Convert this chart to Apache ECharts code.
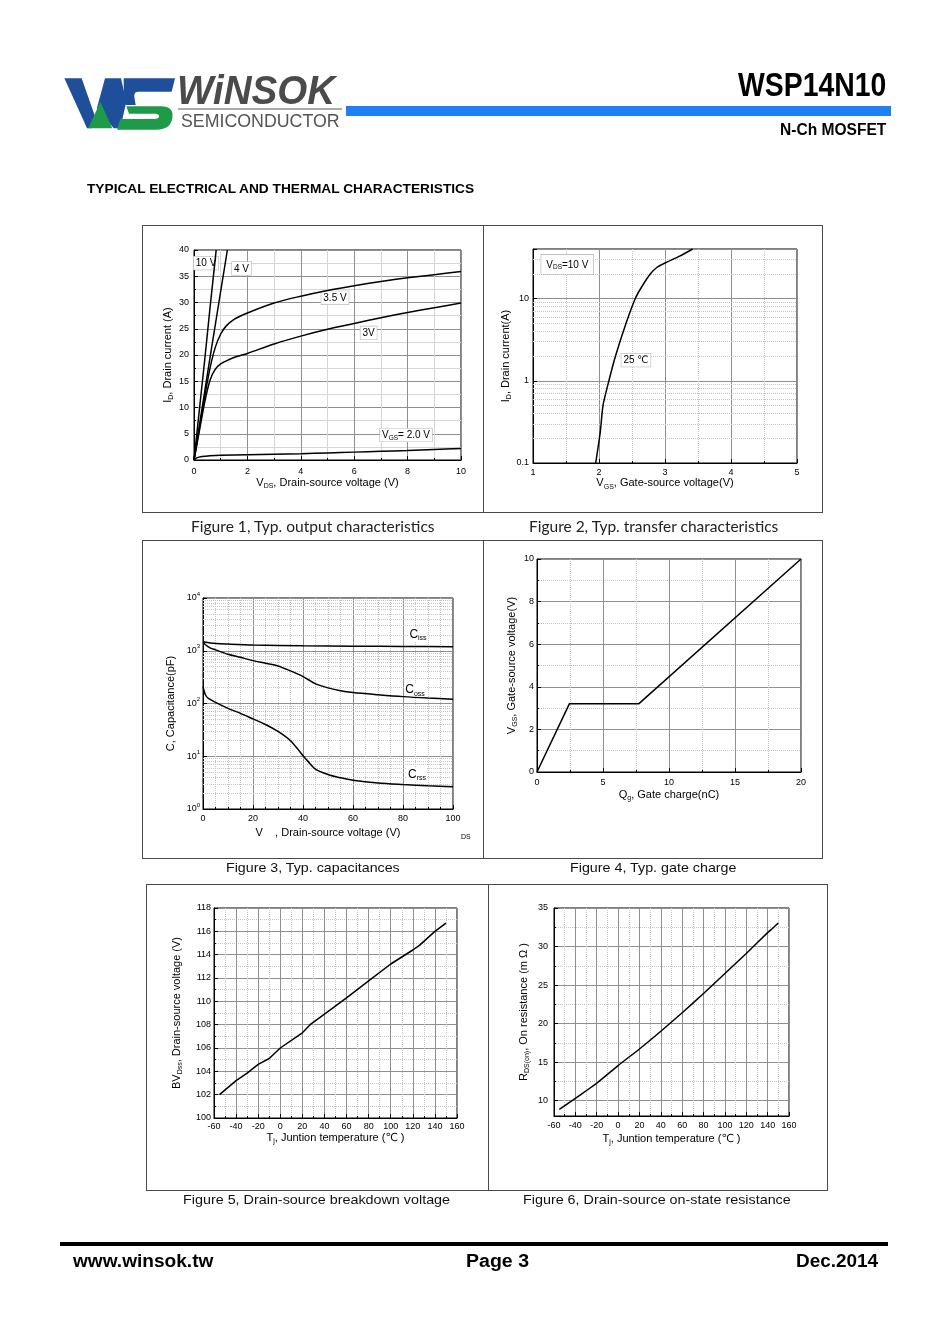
<!DOCTYPE html>
<html><head><meta charset="utf-8"><title>WSP14N10 typical characteristics</title>
<script src="https://cdn.jsdelivr.net/npm/echarts@6.0.0/dist/echarts.min.js"></script>
<style>
html,body{margin:0;padding:0;background:#fff;}
body{width:950px;height:1344px;position:relative;overflow:hidden;font-family:"Liberation Sans",Arial,sans-serif;color:#000}
#chart{position:absolute;left:0;top:0;width:950px;height:1344px}
.t{position:absolute;white-space:nowrap;line-height:1.15;transform-origin:0 50%}
.box{position:absolute;border:1px solid #4a4a4a;box-sizing:border-box}
.vl{position:absolute;width:1px;background:#4a4a4a}
.cap1{font-family:Lato,"Open Sans",sans-serif;font-size:15px;color:#222}
.cap2{font-size:13px;color:#111}
</style></head><body>
<div id="chart"></div>

<!-- logo -->
<svg style="position:absolute;left:55px;top:65px" width="300" height="75" viewBox="0 0 900 225">
  <path fill="#1f4f9b" d="M28,40 L80,40 L122,160 L110,190 L96,190 Q60,110 28,40 Z"/>
  <path fill="#1f4f9b" d="M126,128 L150,40 L198,40 L214,110 L196,190 L176,190 Z"/>
  <path fill="#1f9a49" d="M100,190 L136,110 L172,190 Z"/>
  <path fill="#1f4f9b" d="M206,40 L360,40 L350,80 L250,80 Q236,80 238,96 L242,120 L212,120 Q204,80 206,40 Z"/>
  <path fill="#1f9a49" d="M214,124 L318,124 Q358,124 352,160 Q346,194 306,194 L186,194 L196,162 L298,162 Q312,162 312,154 Q312,146 300,146 L222,146 Z"/>
</svg>
<div class="t" data-x="177" data-y="90" data-w="158" data-a="l" style="font-style:italic;font-weight:bold;font-size:41px;color:#4b4b4b">WiNSOK</div>
<div style="position:absolute;left:178px;top:108px;width:164px;height:2px;background:#aaa"></div>
<div class="t" data-x="181" data-y="121" data-w="159" data-a="l" style="font-size:19px;color:#555">SEMICONDUCTOR</div>
<div style="position:absolute;left:346px;top:106px;width:545px;height:10px;background:#1e80f2"></div>
<div class="t" data-x="886" data-y="85" data-w="148" data-a="r" style="font-weight:bold;font-size:33px">WSP14N10</div>
<div class="t" data-x="886" data-y="130" data-w="106" data-a="r" style="font-weight:bold;font-size:16px">N-Ch MOSFET</div>
<div class="t" data-x="87" data-y="189" data-w="387" data-a="l" style="font-weight:bold;font-size:13px">TYPICAL ELECTRICAL AND THERMAL CHARACTERISTICS</div>

<!-- frames -->
<div class="box" style="left:142px;top:225px;width:681px;height:288px"></div>
<div class="vl" style="left:483px;top:225px;height:288px"></div>
<div class="box" style="left:142px;top:540px;width:681px;height:319px"></div>
<div class="vl" style="left:483px;top:540px;height:319px"></div>
<div class="box" style="left:146px;top:884px;width:682px;height:307px"></div>
<div class="vl" style="left:488px;top:884px;height:307px"></div>

<!-- captions -->
<div class="t cap1" data-x="313" data-y="526" data-w="244" data-a="c">Figure 1, Typ. output characteristics</div>
<div class="t cap1" data-x="653.5" data-y="526" data-w="249" data-a="c">Figure 2, Typ. transfer characteristics</div>
<div class="t cap2" data-x="313" data-y="868" data-w="174" data-a="c">Figure 3, Typ. capacitances</div>
<div class="t cap2" data-x="653.5" data-y="868" data-w="167" data-a="c">Figure 4, Typ. gate charge</div>
<div class="t cap2" data-x="316.5" data-y="1200" data-w="267" data-a="c">Figure 5, Drain-source breakdown voltage</div>
<div class="t cap2" data-x="657" data-y="1200" data-w="268" data-a="c">Figure 6, Drain-source on-state resistance</div>

<!-- footer -->
<div style="position:absolute;left:60px;top:1242px;width:828px;height:4px;background:#000"></div>
<div class="t" data-x="73" data-y="1261" data-w="140" data-a="l" style="font-weight:bold;font-size:18px">www.winsok.tw</div>
<div class="t" data-x="497.5" data-y="1261" data-w="63" data-a="c" style="font-weight:bold;font-size:18px">Page 3</div>
<div class="t" data-x="878" data-y="1261" data-w="82" data-a="r" style="font-weight:bold;font-size:18px">Dec.2014</div>

<script>
// ---------------- data ----------------
// Figure 1: output characteristics  [VDS (V), ID (A)]
const fig1VGS10 = [[0,0],[0.2,9.5],[0.4,19],[0.6,29],[0.8,38.5],[0.83,40]];
const fig1VGS4  = [[0,0],[0.3,9.8],[0.6,19.5],[0.9,29],[1.25,40]];
const fig1VGS35 = [[0,0],[0.2,6],[0.4,12],[0.6,17.5],[0.8,21.5],[1.0,24],[1.2,25.5],[1.5,26.8],[2,28],[3,29.9],[4,31.2],[5,32.3],[6,33.2],[7,34],[8,34.7],[9,35.3],[10,35.9]];
const fig1VGS3  = [[0,0],[0.2,5.5],[0.4,11],[0.6,15.2],[0.8,17.3],[1.0,18.3],[1.3,19.1],[1.6,19.7],[2,20.3],[3,22.1],[4,23.6],[5,24.9],[6,26],[7,27.1],[8,28.1],[9,29],[10,29.9]];
const fig1VGS2  = [[0,0],[0.1,0.4],[0.3,0.65],[0.6,0.8],[1,0.9],[2,1.0],[3,1.1],[4,1.2],[5,1.35],[6,1.5],[7,1.65],[8,1.8],[9,2.0],[10,2.2]];
// Figure 2: transfer characteristics [VGS (V), ID (A)]
const fig2Transfer = [[1.95,0.1],[2.02,0.24],[2.06,0.5],[2.15,1],[2.25,2],[2.41,5],[2.55,10],[2.65,14],[2.78,20],[2.88,24],[3.0,27],[3.23,33],[3.42,40]];
// Figure 3: capacitances [VDS (V), C (pF)]
const fig3Ciss = [[0,1480],[3,1400],[10,1340],[20,1280],[40,1240],[60,1220],[80,1205],[100,1195]];
const fig3Coss = [[0,1450],[1,1300],[2,1200],[3,1120],[5,1040],[10,860],[15,750],[20,650],[25,580],[30,515],[35,415],[38,360],[40,324],[42,285],[45,235],[50,198],[55,175],[60,162],[70,147],[80,135],[90,127],[100,121]];
const fig3Crss = [[0,209],[0.5,170],[1,145],[2,126],[5,105],[10,81],[15,65],[20,51],[25,40],[30,29.5],[35,19.7],[38,13.5],[40,10.2],[42,8.0],[45,5.7],[50,4.5],[55,3.9],[60,3.5],[70,3.1],[80,2.9],[90,2.75],[100,2.64]];
// Figure 4: gate charge [Qg (nC), VGS (V)]
const fig4Qg  = [0, 2.45, 7.7, 20];
const fig4Vgs = [0, 3.2, 3.2, 10];
// Figure 5: breakdown voltage [Tj (°C), BVDSS (V)]
const fig5BV = [[-55,102],[-40,103.2],[-30,103.85],[-20,104.6],[-10,105.1],[0,106],[20,107.3],[27,108],[40,108.9],[60,110.3],[80,111.75],[100,113.2],[120,114.4],[126,114.8],[140,116],[150,116.7]];
// Figure 6: on-resistance [Tj (°C), RDS(on) (mΩ)]
const fig6Rds = [[-55,8.85],[-40,10.3],[-20,12.25],[0,14.55],[20,16.7],[40,19],[60,21.4],[80,23.9],[100,26.5],[120,29.1],[140,31.8],[145,32.4],[150,33.05]];
// curve labels
const fig1Names = ['{t|10 V}','{t|4 V}','{t|3.5 V}','{t|3V}','{t|V}{ts|GS}{t|= 2.0 V}'];
const fig2Names = ['{t|V}{ts|DS}{t|=10 V}','{t|25 ℃}'];
const fig3Names = ['{c|C}{cs|iss}','{c|C}{cs|oss}','{c|C}{cs|rss}'];

// ---------------- html text fitting ----------------
document.querySelectorAll('.t').forEach(function(el){
  const mw = el.offsetWidth, h = el.offsetHeight;
  const w = parseFloat(el.dataset.w) || mw;
  const x = parseFloat(el.dataset.x), y = parseFloat(el.dataset.y), a = el.dataset.a || 'l';
  const left = a === 'l' ? x : (a === 'r' ? x - w : x - w / 2);
  el.style.left = left + 'px';
  el.style.top = (y - h / 2) + 'px';
  el.style.transform = 'scaleX(' + (w / mw) + ')';
});

// ---------------- chart ----------------
const FONT = '"Liberation Sans", Arial, "DejaVu Sans", sans-serif';
const MAJ = '#8f8f8f', MIN = '#c4c4c4';
const RICH = {
  n:  {fontSize:11, lineHeight:14, fontFamily:FONT, color:'#000'},
  s:  {fontSize:7, lineHeight:7, verticalAlign:'bottom', fontFamily:FONT, color:'#000'},
  b:  {fontSize:9, lineHeight:14, fontFamily:FONT, color:'#000'},
  sup:{fontSize:6, lineHeight:6, verticalAlign:'top', fontFamily:FONT, color:'#000'},
  t:  {fontSize:10, lineHeight:12, fontFamily:FONT, color:'#000'},
  ts: {fontSize:6.5, lineHeight:6, verticalAlign:'bottom', fontFamily:FONT, color:'#000'},
  c:  {fontSize:12, lineHeight:14, fontFamily:FONT, color:'#000'},
  cs: {fontSize:7, lineHeight:7, verticalAlign:'bottom', fontFamily:FONT, color:'#000'}
};

const grids = [
  {left:194, top:250, width:267, height:210},
  {left:533, top:249, width:264, height:214},
  {left:203, top:598, width:250, height:211},
  {left:537, top:559, width:264, height:213},
  {left:214, top:908, width:243, height:210},
  {left:554, top:908, width:235, height:208}
].map(function(g){ return Object.assign(g, {show:true, borderColor:'#000', borderWidth:1, backgroundColor:'rgba(0,0,0,0)', containLabel:false, outerBoundsMode:'none'}); });

function axis(kind, gi, o){
  const a = {
    type: o.type || 'value', gridIndex: gi, min: o.min, max: o.max,
    position: kind === 'x' ? 'bottom' : 'left',
    axisLine: {show:true, onZero:false, lineStyle:{color:'#000', width:1}},
    axisTick: {show:true, inside:true, length:4, lineStyle:{color:'#000', width:1}},
    axisLabel: {show:true, fontSize:9, color:'#000', fontFamily:FONT, margin:o.margin, rich:RICH},
    splitLine: {show:true, lineStyle:{color:MAJ, width:1}},
    name: o.name, nameLocation:'middle', nameGap:o.gap,
    nameTextStyle: {fontFamily:FONT, fontSize:11, color:'#000', rich:RICH}
  };
  if (o.interval != null) a.interval = o.interval;
  if (o.splitNumber != null) a.splitNumber = o.splitNumber;
  if (a.type === 'value') {
    a.minorTick = {show:true, splitNumber:o.minor || 2, length:2, lineStyle:{color:'#000'}};
    a.minorSplitLine = {show:true, lineStyle:{color:o.minorColor || MIN, width:1, type:o.minorType || 'dotted'}};
  } else {
    a.logBase = 10;
  }
  if (o.formatter) a.axisLabel.formatter = o.formatter;
  if (o.showMinLabel === false) a.axisLabel.showMinLabel = false;
  return a;
}

function logMinor(lo, hi){
  const out = [];
  for (let e = Math.floor(Math.log10(lo)); e <= Math.ceil(Math.log10(hi)); e++) {
    for (let m = 2; m <= 9; m++) {
      const v = m * Math.pow(10, e);
      if (v > lo * 1.0001 && v < hi * 0.9999) out.push({yAxis: v});
    }
  }
  return out;
}
function minorLines(lo, hi){
  return {silent:true, symbol:['none','none'], animation:false, label:{show:false},
          lineStyle:{color:MIN, type:'dotted', width:1}, emphasis:{disabled:true}, data:logMinor(lo, hi)};
}
function tag(coord, text, extra){
  return {coord:coord, symbol:'rect', symbolSize:1, itemStyle:{color:'rgba(0,0,0,0)'},
    label:Object.assign({show:true, position:'inside', formatter:text, fontFamily:FONT, fontSize:10, color:'#000',
      backgroundColor:'#fff', borderColor:'#b8b8b8', borderWidth:0.6, padding:[1,2,0,2], rich:RICH}, extra || {})};
}
function line(gi, data, o){
  o = o || {};
  const s = {type:'line', xAxisIndex:gi, yAxisIndex:gi, data:data, symbol:'none', showSymbol:false,
    smooth:o.smooth || false, lineStyle:{color:'#000', width:1.5}, silent:true, z:5};
  if (o.tags) s.markPoint = {silent:true, animation:false, data:o.tags};
  if (o.markLine) s.markLine = o.markLine;
  return s;
}

const log2 = function(v){ const e = Math.log10(v), r = Math.round(e);
  if (Math.abs(e - r) > 1e-6) return ''; return r < 0 ? '0.1' : String(Math.round(v)); };
const log3 = function(v){ const e = Math.log10(v), r = Math.round(e);
  if (Math.abs(e - r) > 1e-6) return ''; return '{b|10}{sup|' + r + '}'; };

const xAxes = [
  axis('x',0,{min:0,max:10,interval:2,minorType:'solid',minorColor:'#d6d6d6',margin:7,gap:16,name:'{n|V}{s|DS}{n|, Drain-source voltage (V)}'}),
  axis('x',1,{min:1,max:5,interval:1,margin:5,gap:13,name:'{n|V}{s|GS}{n|, Gate-source voltage(V)}'}),
  axis('x',2,{min:0,max:100,interval:20,minor:4,margin:5,gap:17,name:'{n|V    , Drain-source voltage (V)}'}),
  axis('x',3,{min:0,max:20,interval:5,margin:6,gap:16,name:'{n|Q}{s|g}{n|, Gate charge(nC)}'}),
  axis('x',4,{min:-60,max:160,interval:20,margin:4,gap:13,name:'{n|T}{s|j}{n|, Juntion temperature (℃ )}'}),
  axis('x',5,{min:-60,max:160,interval:20,margin:5,gap:16,name:'{n|T}{s|j}{n|, Juntion temperature (℃ )}'})
];
const yAxes = [
  axis('y',0,{min:0,max:40,interval:5,minorType:'solid',minorColor:'#d6d6d6',margin:5,gap:19,name:'{n|I}{s|D}{n|, Drain current (A)}'}),
  axis('y',1,{type:'log',min:0.1,max:40,margin:4,gap:19,formatter:log2,name:'{n|I}{s|D}{n|, Drain current(A)}'}),
  axis('y',2,{type:'log',min:1,max:10000,margin:3,gap:25,formatter:log3,name:'{n|C, Capacitance(pF)}'}),
  axis('y',3,{min:0,max:10,interval:2,margin:3,gap:18,name:'{n|V}{s|GS}{n|, Gate-source voltage(V)}'}),
  axis('y',4,{min:100,max:118,interval:2,margin:3,gap:30,name:'{n|BV}{s|Dss}{n|, Drain-source voltage (V)}'}),
  axis('y',5,{min:8,max:35,splitNumber:5,margin:6,gap:23,showMinLabel:false,name:'{n|R}{s|DS(on)}{n|, On resistance (m Ω )}'})
];

const series = [
  line(0, fig1VGS10, {tags:[tag([0.45,37.5], fig1Names[0])]}),
  line(0, fig1VGS4,  {tags:[tag([1.78,36.5], fig1Names[1])]}),
  line(0, fig1VGS35, {smooth:0.3, tags:[tag([5.28,30.9], fig1Names[2])]}),
  line(0, fig1VGS3,  {smooth:0.3, tags:[tag([6.54,24.2], fig1Names[3])]}),
  line(0, fig1VGS2,  {smooth:0.3, tags:[tag([7.94,4.76], fig1Names[4])]}),
  line(1, fig2Transfer, {smooth:0.2, markLine:minorLines(0.1,40),
    tags:[tag([1.52,26], fig2Names[0], {padding:[4,5,3,5], borderColor:'#aaa'}), tag([2.56,1.78], fig2Names[1])]}),
  line(2, fig3Ciss, {smooth:0.3, markLine:minorLines(1,10000), tags:[tag([86,2050], fig3Names[0], {borderWidth:0, padding:[0,1,0,1]})]}),
  line(2, fig3Coss, {smooth:0.3, tags:[tag([84.8,179], fig3Names[1], {borderWidth:0, padding:[0,1,0,1]})]}),
  line(2, fig3Crss, {smooth:0.3, tags:[tag([85.6,4.4], fig3Names[2], {borderWidth:0, padding:[0,1,0,1]})]}),
  line(3, fig4Qg.map(function(q,i){ return [q, fig4Vgs[i]]; })),
  line(4, fig5BV),
  line(5, fig6Rds, {smooth:0.2})
];

const chart = echarts.init(document.getElementById('chart'), null, {renderer:'canvas'});
chart.setOption({
  animation:false,
  backgroundColor:'rgba(0,0,0,0)',
  grid:grids,
  xAxis:xAxes,
  yAxis:yAxes,
  series:series,
  graphic:[{type:'text', left:461, top:834, silent:true, style:{text:'DS', font:'7px ' + FONT, fill:'#000'}}]
});
</script>
</body></html>
